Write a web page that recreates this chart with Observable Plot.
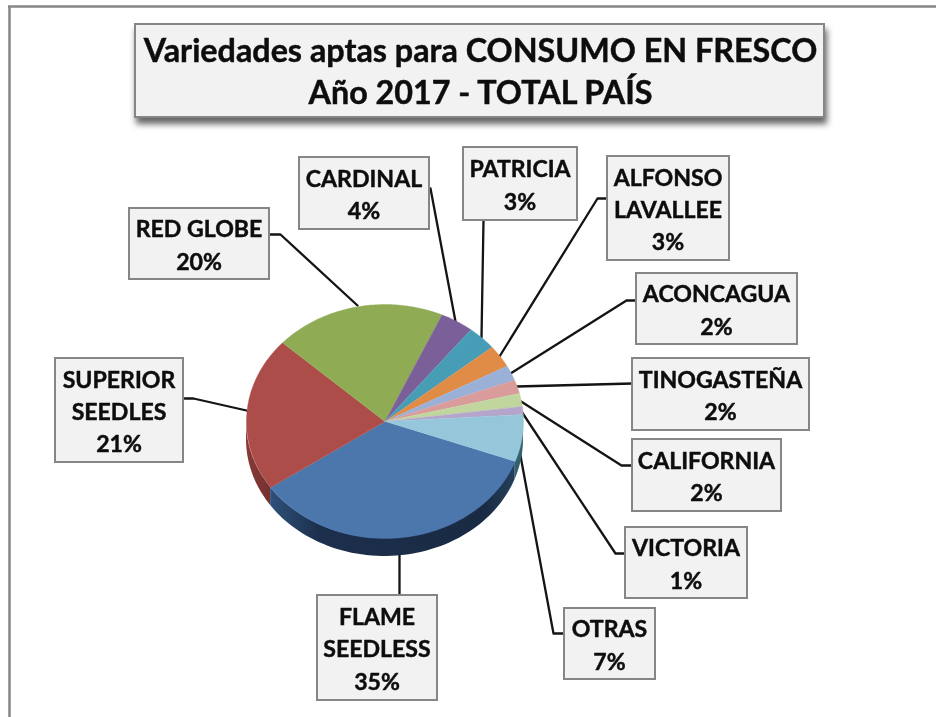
<!DOCTYPE html>
<html lang="es">
<head>
<meta charset="utf-8">
<style>
html,body{margin:0;padding:0;background:#fff}
svg{display:block}
</style>
<script src="https://cdn.jsdelivr.net/npm/d3@7"></script>
<script src="https://cdn.jsdelivr.net/npm/@observablehq/plot@0.6"></script>
</head>
<body>
<div id="chart"></div>
<script>
// ---- data (clockwise from the first slice) ----
const varieties = ["FLAME\nSEEDLESS","SUPERIOR\nSEEDLES","RED GLOBE","CARDINAL","PATRICIA","ALFONSO\nLAVALLEE","ACONCAGUA","TINOGASTEÑA","CALIFORNIA","VICTORIA","OTRAS"];
const shares    = [34.9, 21.3, 20.0, 3.9, 3.4, 3.1, 2.1, 1.9, 1.8, 1.1, 6.5];
const colors    = ["#4c77ad","#ac4d4a","#8fab54","#7b5f98","#479db6","#e08c47","#9bb0d7","#d99c9a","#c1d69f","#b5a5cb","#96c6d9"];
const titleText = "Variedades aptas para CONSUMO EN FRESCO\nAño 2017 - TOTAL PAÍS";

// ---- layout of the annotation boxes and leader lines ----
const boxes = [[317,595,437,700],[55,358,183,462],[129,208,269,279],[299,157,429,229],[463,147,577,220],[607,156,729,260],[636,273,797,344],[632,358,809,430],[632,439,781,511],[625,527,747,598],[564,608,655,679]];
const leaders = [
  [[399,595],[399,553]],
  [[184,398],[193,398],[246,410]],
  [[270,234],[280,234],[357,305]],
  [[430,188],[455,321]],
  [[483,220],[481,337]],
  [[607,198],[597,198],[499,356]],
  [[636,300],[626,300],[510,373]],
  [[632,383],[516,386]],
  [[632,465],[621,465],[519,400]],
  [[625,553],[615,553],[521,411]],
  [[564,633],[553,633],[519,450]]
];
const pie = {cx:384.5, cy:421, rx:138.5, ry:117, depth:18, start:110};
const W = 936, H = 717;

// ---- derived tables ----
const rad = d => d * Math.PI / 180;
const rimX = a => pie.cx + pie.rx * Math.sin(rad(a));
const rimY = a => pie.cy - pie.ry * Math.cos(rad(a));
let acc = pie.start;
const slices = varieties.map((name, i) => {
  const a0 = acc, a1 = acc + shares[i] * 3.6; acc = a1;
  return {name, a0, a1, i};
});
const facePts = slices.flatMap(s => {
  const out = [{name:s.name, x:pie.cx, y:pie.cy}];
  const n = Math.max(2, Math.ceil(s.a1 - s.a0));
  for (let k = 0; k <= n; k++) {
    const a = s.a0 + (s.a1 - s.a0) * k / n;
    out.push({name:s.name, x:rimX(a), y:rimY(a)});
  }
  return out;
});
const wallPts = (a0, a1) => d3.range(0, 61).map(k => {
  const a = a0 + (a1 - a0) * k / 60;
  return {x:rimX(a), y1:rimY(a), y2:rimY(a) + pie.depth};
});
const wallOtras = wallPts(90, slices[0].a0);
const wallFlame = wallPts(slices[0].a0, slices[0].a1);
const wallSuperior = wallPts(slices[0].a1, 270);

const labels = slices.map((s, i) => ({
  text: `${s.name}\n${Math.round(shares[i])}%`,
  x: (boxes[i][0] + boxes[i][2]) / 2 - 0.5,
  y: (boxes[i][1] + boxes[i][3]) / 2 - 1
}));
const boxRows = boxes.map(b => ({x1:b[0], y1:b[1], x2:b[2], y2:b[3]}));
const leaderPts = leaders.flatMap((l, i) => l.map(p => ({id:i, x:p[0], y:p[1]})));

const gradients = () => {
  const d = document.createElementNS("http://www.w3.org/2000/svg", "defs");
  d.innerHTML = `<linearGradient id="flameWall" gradientUnits="userSpaceOnUse" x1="268" x2="522" y1="0" y2="0">
    <stop offset="0" stop-color="#30527c"/><stop offset="0.2" stop-color="#1c2f4c"/>
    <stop offset="0.85" stop-color="#192a43"/><stop offset="1" stop-color="#27455f"/></linearGradient>
    <linearGradient id="redWall" gradientUnits="userSpaceOnUse" x1="246" x2="270" y1="0" y2="0">
    <stop offset="0" stop-color="#8a3a38"/><stop offset="1" stop-color="#733130"/></linearGradient>`;
  return d;
};

const fontBase = {fontFamily:"Lato, 'Open Sans', sans-serif", fontWeight:700, fill:"#0d0d0d", stroke:"#0d0d0d", strokeWidth:0.45};

const chart = Plot.plot({
  width: W, height: H,
  margin: 0,
  style: {background:"#fff", filter:"blur(0.45px)"},
  x: {domain:[0,W], range:[0,W], axis:null},
  y: {domain:[0,H], range:[0,H], axis:null},
  color: {type:"ordinal", domain:varieties, range:colors},
  marks: [
    gradients,
    Plot.ruleX([9], {y1:6, y2:H, stroke:"#868686", strokeWidth:2.5}),
    Plot.ruleY([6], {x1:8, x2:W, stroke:"#868686", strokeWidth:2.5}),
    // title panel
    Plot.rect([{x1:135,x2:824,y1:24,y2:117}], {x1:"x1",x2:"x2",y1:"y1",y2:"y2", fill:"#f2f2f2", stroke:"#868686", strokeWidth:2, imageFilter:"drop-shadow(2px 6px 3px rgba(50,50,50,.75))"}),
    Plot.text([titleText], {x:480, y:69.5, text:d=>d, fontSize:32.3, lineHeight:1.3, textAnchor:"middle", ...fontBase}),
    // leaders run behind the pie
    Plot.line(leaderPts, {x:"x", y:"y", z:"id", stroke:"#141414", strokeWidth:2.3}),
    // side wall
    Plot.areaY(wallOtras, {x:"x", y1:"y1", y2:"y2", fill:"#33606f"}),
    Plot.areaY(wallSuperior, {x:"x", y1:"y1", y2:"y2", fill:"url(#redWall)"}),
    Plot.areaY(wallFlame, {x:"x", y1:"y1", y2:"y2", fill:"url(#flameWall)"}),
    // top face
    Plot.line(facePts, {x:"x", y:"y", z:"name", fill:"name", stroke:"name", strokeWidth:0.4}),
    // annotation boxes
    Plot.rect(boxRows, {x1:"x1",x2:"x2",y1:"y1",y2:"y2", fill:"#f2f2f2", stroke:"#868686", strokeWidth:2}),
    Plot.text(labels, {x:"x", y:"y", text:"text", fontSize:23.1, lineHeight:1.4, textAnchor:"middle", ...fontBase})
  ]
});
document.getElementById("chart").appendChild(chart);
</script>
</body>
</html>
